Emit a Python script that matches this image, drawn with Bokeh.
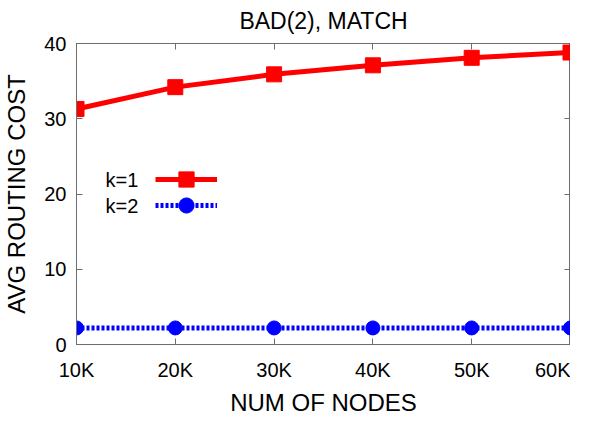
from bokeh.plotting import figure
from bokeh.models import (Range1d, FixedTicker, LinearAxis, Legend, LegendItem, Label, Title,
                          CustomJSTickFormatter)
from bokeh.embed import file_html
from bokeh.resources import INLINE

nodes = [10000, 20000, 30000, 40000, 50000, 60000]
tick_labels = ["10K", "20K", "30K", "40K", "50K", "60K"]
k1_cost = [31.3, 34.2, 35.9, 37.1, 38.1, 38.8]
k2_cost = [2.2, 2.2, 2.2, 2.2, 2.2, 2.2]
y_ticks = [0, 10, 20, 30, 40]
title_text = "BAD(2), MATCH"
series_names = ["k=1", "k=2"]

FONT = "Liberation Sans"
BORDER = "#6e6e6e"
FW, FH = 494, 301

p = figure(frame_width=FW, frame_height=FH, output_backend="svg", toolbar_location=None,
           x_range=Range1d(10000, 60000), y_range=Range1d(0, 40),
           min_border_left=0, min_border_right=0, min_border_top=42, min_border_bottom=0)
p.title = Title(text=title_text, align="center", vertical_align="top", text_font=FONT,
                text_font_size="23px", text_font_style="normal", text_color="black", standoff=15)
p.xgrid.visible = False
p.ygrid.visible = False
p.outline_line_color = BORDER
p.background_fill_color = "white"
p.border_fill_color = "white"

def style_axis(ax, show_labels):
    ax.major_tick_in = 6
    ax.major_tick_out = 0
    ax.minor_tick_line_color = None
    ax.axis_line_color = BORDER
    ax.major_tick_line_color = BORDER
    ax.major_label_text_font = FONT
    ax.major_label_text_font_size = "20px"
    ax.major_label_text_color = "black"
    ax.axis_label_text_font = FONT
    ax.axis_label_text_font_size = "24px"
    ax.axis_label_text_font_style = "normal"
    ax.axis_label_text_color = "black"
    if not show_labels:
        ax.formatter = CustomJSTickFormatter(code="return '';")

xax = p.xaxis[0]
xax.ticker = FixedTicker(ticks=nodes)
xax.major_label_overrides = {n: t for n, t in zip(nodes, tick_labels)}
xax.axis_label = "NUM OF NODES"
xax.major_label_standoff = 14
xax.axis_label_standoff = 5
style_axis(xax, True)

yax = p.yaxis[0]
yax.ticker = FixedTicker(ticks=y_ticks)
yax.axis_label = "AVG ROUTING COST"
yax.major_label_standoff = 10
yax.axis_label_standoff = 11
style_axis(yax, True)

top = LinearAxis(ticker=FixedTicker(ticks=nodes))
style_axis(top, False)
top.major_label_standoff = 0
p.add_layout(top, "above")
right = LinearAxis(ticker=FixedTicker(ticks=y_ticks))
style_axis(right, False)
right.major_label_standoff = 0
p.add_layout(right, "right")

r1 = p.line(nodes, k1_cost, line_color="#ff0000", line_width=5)
m1 = p.scatter(nodes, k1_cost, marker="square", size=15, fill_color="#ff0000", line_color="#ff0000")
r2 = p.line(nodes, k2_cost, line_color="#0000ff", line_width=5, line_dash="3 2")
m2 = p.scatter(nodes, k2_cost, marker="circle", size=14, fill_color="#0000ff", line_color="#0000ff")

for rs, ly in (([r1, m1], 146), ([r2, m2], 120)):
    lg = Legend(items=[LegendItem(label=" ", renderers=rs)],
                location=(79, ly), glyph_width=62, glyph_height=38, spacing=0,
                padding=0, margin=0, label_width=0, label_standoff=0,
                border_line_color=None, background_fill_alpha=0)
    p.add_layout(lg, "center")

for name, ly in zip(series_names, (165, 139)):
    p.add_layout(Label(x=29, y=ly, x_units="screen", y_units="screen", text=name,
                       text_font=FONT, text_font_size="20px", text_color="black",
                       text_align="left", text_baseline="middle"))

open("out.html", "w").write(file_html(p, INLINE))
